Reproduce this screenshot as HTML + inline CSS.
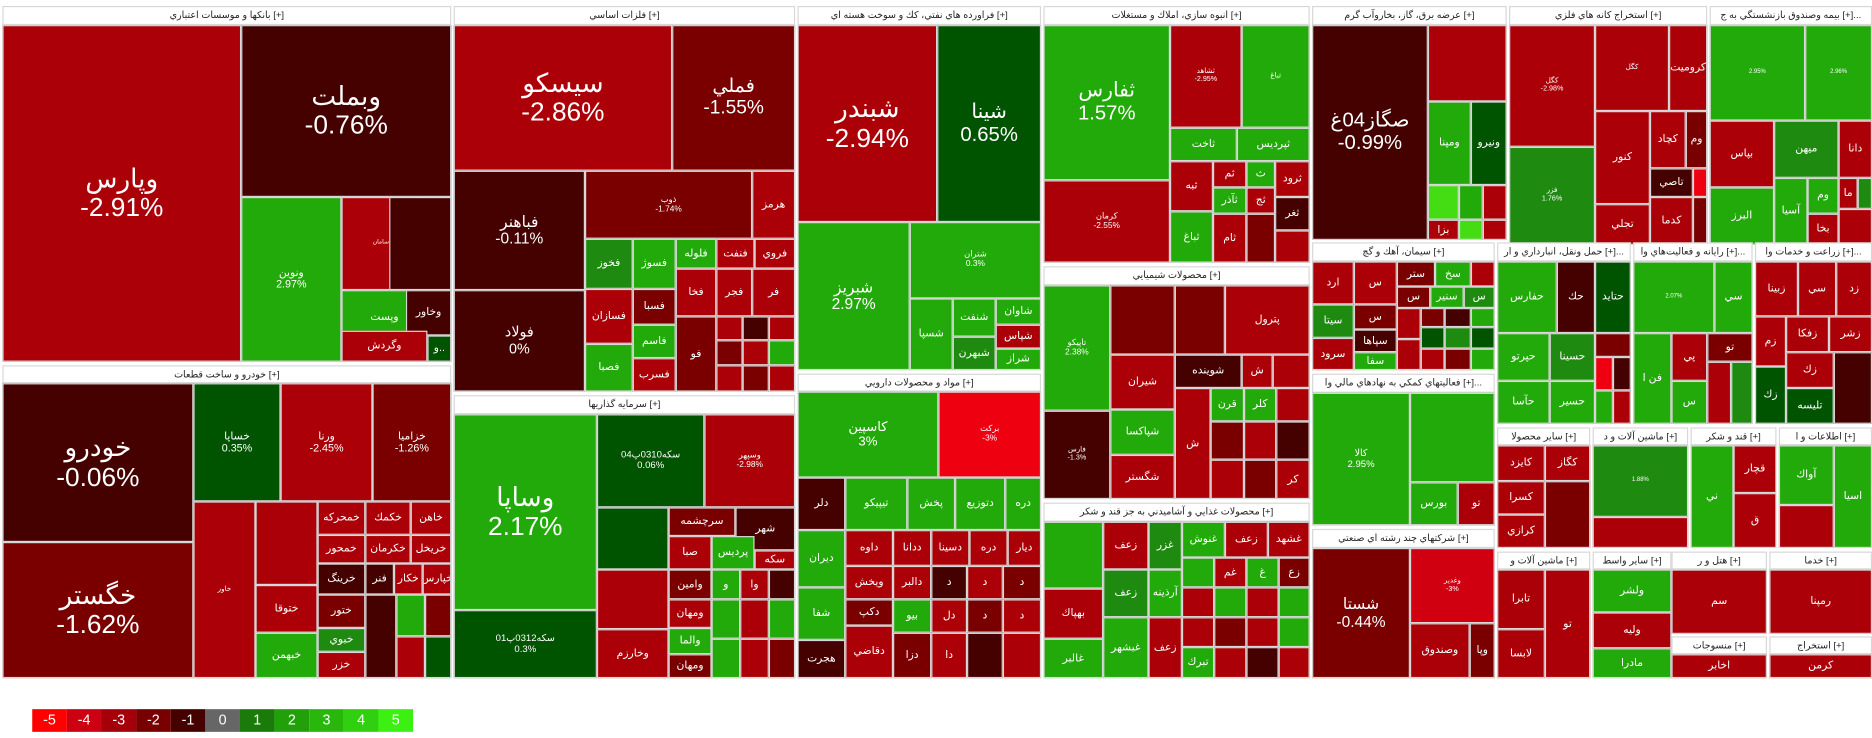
<!DOCTYPE html>
<html><head><meta charset="utf-8"><style>
body{margin:0;background:#fff;width:1872px;height:738px;overflow:hidden;font-family:"Liberation Sans","DejaVu Sans",sans-serif}
#w{position:absolute;left:0;top:0;width:1568px;height:618px;transform:scale(1.19388);transform-origin:0 0}
.h,.t{position:absolute;box-sizing:border-box;border:1px solid #d8d8d8;overflow:hidden}
.h{background:#fff;color:#222;font-size:8px;text-align:center;line-height:13px;white-space:nowrap}
.t{color:#fff;display:flex;align-items:center;justify-content:center;text-align:center;font-size:9px;line-height:1.1}
.a{background:#ac0008}.b{background:#7a0000}.c{background:#450000}.d{background:#d00010}.e{background:#ee0010}
.g{background:#22aa0a}.f{background:#1f8a10}.k{background:#005400}.l{background:#44dd14}
.L{position:absolute;top:594px;height:19px;width:29px;color:#fff;font-size:12px;text-align:center;line-height:19px}
</style></head><body><div id="w">
<!-- banks -->
<div class="h" style="left:2px;top:5px;width:376px;height:16px">بانكها و موسسات اعتباري [+]</div>
<div class="t a" style="left:2px;top:21px;width:200px;height:282px;font-size:22px">وپارس<br>-2.91%</div>
<div class="t c" style="left:202px;top:21px;width:176px;height:144px;font-size:22px">وبملت<br>-0.76%</div>
<div class="t g" style="left:202px;top:165px;width:84px;height:138px">ونوين<br>2.97%</div>
<div class="t a" style="left:286px;top:165px;width:66px;height:78px;font-size:5px">سامان</div>
<div class="t c" style="left:326px;top:165px;width:52px;height:78px;font-size:5px"></div>
<div class="t g" style="left:286px;top:243px;width:72px;height:46px">وپست</div>
<div class="t c" style="left:340px;top:243px;width:38px;height:38px">وخاور</div>
<div class="t a" style="left:286px;top:277px;width:72px;height:26px">وگردش</div>
<div class="t k" style="left:358px;top:281px;width:20px;height:22px">و..</div>
<!-- cars -->
<div class="h" style="left:2px;top:306px;width:376px;height:15px">خودرو و ساخت قطعات [+]</div>
<div class="t c" style="left:2px;top:321px;width:160px;height:133px;font-size:22px">خودرو<br>-0.06%</div>
<div class="t b" style="left:2px;top:454px;width:160px;height:114px;font-size:22px">خگستر<br>-1.62%</div>
<div class="t k" style="left:162px;top:321px;width:73px;height:99px">خساپا<br>0.35%</div>
<div class="t a" style="left:235px;top:321px;width:77px;height:99px">ورنا<br>-2.45%</div>
<div class="t b" style="left:312px;top:321px;width:66px;height:99px">خزاميا<br>-1.26%</div>
<div class="t a" style="left:162px;top:420px;width:52px;height:148px;font-size:6px">خاور</div>
<div class="t a" style="left:214px;top:420px;width:52px;height:70px;font-size:6px"></div>
<div class="t a" style="left:266px;top:420px;width:40px;height:28px">خمحركه</div>
<div class="t a" style="left:306px;top:420px;width:38px;height:28px">خكمك</div>
<div class="t a" style="left:344px;top:420px;width:34px;height:28px">خاهن</div>
<div class="t a" style="left:266px;top:448px;width:40px;height:24px">خمحور</div>
<div class="t a" style="left:306px;top:448px;width:38px;height:24px">خكرمان</div>
<div class="t a" style="left:344px;top:448px;width:34px;height:24px">خريخل</div>
<div class="t a" style="left:214px;top:490px;width:52px;height:40px">ختوقا</div>
<div class="t c" style="left:266px;top:472px;width:40px;height:26px">خرينگ</div>
<div class="t c" style="left:306px;top:472px;width:24px;height:26px">فنر</div>
<div class="t a" style="left:330px;top:472px;width:24px;height:26px">خكار</div>
<div class="t a" style="left:354px;top:472px;width:24px;height:26px">خپارس</div>
<div class="t b" style="left:266px;top:498px;width:40px;height:28px">ختور</div>
<div class="t g" style="left:214px;top:530px;width:52px;height:38px">خبهمن</div>
<div class="t f" style="left:266px;top:526px;width:40px;height:20px">خبوي</div>
<div class="t a" style="left:266px;top:546px;width:40px;height:22px">خزر</div>
<div class="t c" style="left:306px;top:498px;width:26px;height:70px"></div>
<div class="t g" style="left:332px;top:498px;width:24px;height:35px"></div>
<div class="t b" style="left:356px;top:498px;width:22px;height:35px"></div>
<div class="t a" style="left:332px;top:533px;width:24px;height:35px"></div>
<div class="t k" style="left:356px;top:533px;width:22px;height:35px"></div>
<!-- metals -->
<div class="h" style="left:380px;top:5px;width:286px;height:16px">فلزات اساسي [+]</div>
<div class="t a" style="left:380px;top:21px;width:183px;height:122px;font-size:22px">سيسكو<br>-2.86%</div>
<div class="t b" style="left:563px;top:21px;width:103px;height:122px;font-size:16px">فملي<br>-1.55%</div>
<div class="t c" style="left:380px;top:143px;width:110px;height:100px;font-size:13px">فباهنر<br>-0.11%</div>
<div class="t c" style="left:380px;top:243px;width:110px;height:85px;font-size:12px">فولاد<br>0%</div>
<div class="t b" style="left:490px;top:143px;width:140px;height:57px;font-size:7px">ذوب<br>-1.74%</div>
<div class="t a" style="left:630px;top:143px;width:36px;height:57px">هرمز</div>
<div class="t f" style="left:490px;top:200px;width:40px;height:42px">فخوز</div>
<div class="t g" style="left:530px;top:200px;width:36px;height:42px">فسوژ</div>
<div class="t g" style="left:566px;top:200px;width:34px;height:25px">فلوله</div>
<div class="t a" style="left:600px;top:200px;width:32px;height:25px">فنفت</div>
<div class="t a" style="left:632px;top:200px;width:34px;height:25px">فروي</div>
<div class="t a" style="left:490px;top:242px;width:40px;height:46px">فسازان</div>
<div class="t b" style="left:530px;top:242px;width:36px;height:30px">فسبا</div>
<div class="t a" style="left:566px;top:225px;width:34px;height:40px">فخا</div>
<div class="t a" style="left:600px;top:225px;width:30px;height:40px">فجر</div>
<div class="t a" style="left:630px;top:225px;width:36px;height:40px">فر</div>
<div class="t g" style="left:490px;top:288px;width:40px;height:40px">فصبا</div>
<div class="t g" style="left:530px;top:272px;width:36px;height:28px">فاسم</div>
<div class="t a" style="left:530px;top:300px;width:36px;height:28px">فسرب</div>
<div class="t b" style="left:566px;top:265px;width:34px;height:63px">فو</div>
<div class="t a" style="left:600px;top:265px;width:22px;height:20px"></div><div class="t c" style="left:622px;top:265px;width:22px;height:20px"></div><div class="t a" style="left:644px;top:265px;width:22px;height:20px"></div>
<div class="t b" style="left:600px;top:285px;width:22px;height:21px"></div><div class="t a" style="left:622px;top:285px;width:22px;height:21px"></div><div class="t g" style="left:644px;top:285px;width:22px;height:21px"></div>
<div class="t a" style="left:600px;top:306px;width:22px;height:22px"></div><div class="t b" style="left:622px;top:306px;width:22px;height:22px"></div><div class="t a" style="left:644px;top:306px;width:22px;height:22px"></div>
<!-- investments -->
<div class="h" style="left:380px;top:331px;width:286px;height:16px">سرمايه گذاريها [+]</div>
<div class="t g" style="left:380px;top:347px;width:120px;height:164px;font-size:22px">وساپا<br>2.17%</div>
<div class="t k" style="left:380px;top:511px;width:120px;height:57px;font-size:8px">سكه0312پ01<br>0.3%</div>
<div class="t k" style="left:500px;top:347px;width:90px;height:78px;font-size:8px">سكه0310پ04<br>0.06%</div>
<div class="t a" style="left:590px;top:347px;width:76px;height:78px;font-size:7px">وسپهر<br>-2.98%</div>
<div class="t k" style="left:500px;top:425px;width:60px;height:52px;font-size:5px"></div>
<div class="t a" style="left:500px;top:477px;width:60px;height:50px;font-size:5px"></div>
<div class="t a" style="left:500px;top:527px;width:60px;height:41px">وخارزم</div>
<div class="t b" style="left:560px;top:425px;width:56px;height:24px">سرچشمه</div>
<div class="t c" style="left:616px;top:425px;width:50px;height:36px">شهر</div>
<div class="t a" style="left:560px;top:449px;width:36px;height:28px">صبا</div>
<div class="t g" style="left:596px;top:449px;width:36px;height:28px">پرديس</div>
<div class="t a" style="left:632px;top:461px;width:34px;height:16px">سكه</div>
<div class="t b" style="left:560px;top:477px;width:36px;height:25px">وامين</div>
<div class="t g" style="left:596px;top:477px;width:24px;height:25px">و</div>
<div class="t a" style="left:620px;top:477px;width:24px;height:25px">وا</div>
<div class="t c" style="left:644px;top:477px;width:22px;height:25px"></div>
<div class="t a" style="left:560px;top:502px;width:36px;height:24px">ومهان</div>
<div class="t g" style="left:560px;top:526px;width:36px;height:22px">والما</div>
<div class="t b" style="left:560px;top:548px;width:36px;height:20px">ومهان</div>
<div class="t g" style="left:596px;top:502px;width:24px;height:33px"></div><div class="t a" style="left:620px;top:502px;width:24px;height:33px"></div><div class="t g" style="left:644px;top:502px;width:22px;height:33px"></div>
<div class="t g" style="left:596px;top:535px;width:24px;height:33px"></div><div class="t a" style="left:620px;top:535px;width:24px;height:33px"></div><div class="t b" style="left:644px;top:535px;width:22px;height:33px"></div>
<!-- petroleum -->
<div class="h" style="left:668px;top:5px;width:204px;height:16px">فراورده هاي نفتي، كك و سوخت هسته اي [+]</div>
<div class="t a" style="left:668px;top:21px;width:117px;height:165px;font-size:22px">شبندر<br>-2.94%</div>
<div class="t k" style="left:785px;top:21px;width:87px;height:165px;font-size:17px">شينا<br>0.65%</div>
<div class="t g" style="left:668px;top:186px;width:94px;height:124px;font-size:13px">شبريز<br>2.97%</div>
<div class="t g" style="left:762px;top:186px;width:110px;height:64px;font-size:7px">شتران<br>0.3%</div>
<div class="t g" style="left:762px;top:250px;width:36px;height:60px">شسپا</div>
<div class="t g" style="left:798px;top:250px;width:36px;height:32px">شنفت</div>
<div class="t f" style="left:798px;top:282px;width:36px;height:28px">شبهرن</div>
<div class="t g" style="left:834px;top:250px;width:38px;height:22px">شاوان</div>
<div class="t a" style="left:834px;top:272px;width:38px;height:20px">شپاس</div>
<div class="t g" style="left:834px;top:292px;width:38px;height:18px">شراز</div>
<!-- pharma -->
<div class="h" style="left:668px;top:313px;width:204px;height:15px">مواد و محصولات دارويي [+]</div>
<div class="t g" style="left:668px;top:328px;width:118px;height:72px;font-size:11px">كاسپين<br>3%</div>
<div class="t e" style="left:786px;top:328px;width:86px;height:72px;font-size:7px">بركت<br>-3%</div>
<div class="t c" style="left:668px;top:400px;width:40px;height:44px">دلر</div>
<div class="t g" style="left:708px;top:400px;width:52px;height:44px">تيپيكو</div>
<div class="t g" style="left:760px;top:400px;width:40px;height:44px">پخش</div>
<div class="t g" style="left:800px;top:400px;width:42px;height:44px">دتوزيع</div>
<div class="t g" style="left:842px;top:400px;width:30px;height:44px">دره</div>
<div class="t g" style="left:668px;top:444px;width:40px;height:48px">ديران</div>
<div class="t g" style="left:668px;top:492px;width:40px;height:44px">شفا</div>
<div class="t c" style="left:668px;top:536px;width:40px;height:32px">هجرت</div>
<div class="t a" style="left:708px;top:444px;width:40px;height:30px">داوه</div>
<div class="t a" style="left:748px;top:444px;width:32px;height:30px">ددانا</div>
<div class="t a" style="left:780px;top:444px;width:32px;height:30px">دسينا</div>
<div class="t a" style="left:812px;top:444px;width:32px;height:30px">دره</div>
<div class="t a" style="left:844px;top:444px;width:28px;height:30px">ديار</div>
<div class="t a" style="left:708px;top:474px;width:40px;height:28px">ويخش</div>
<div class="t a" style="left:748px;top:474px;width:32px;height:28px">دالبر</div>
<div class="t c" style="left:780px;top:474px;width:30px;height:28px">د</div><div class="t a" style="left:810px;top:474px;width:30px;height:28px">د</div><div class="t b" style="left:840px;top:474px;width:32px;height:28px">د</div>
<div class="t b" style="left:708px;top:502px;width:40px;height:22px">دكپ</div>
<div class="t g" style="left:748px;top:502px;width:32px;height:28px">بيو</div>
<div class="t a" style="left:780px;top:502px;width:30px;height:28px">دل</div><div class="t b" style="left:810px;top:502px;width:30px;height:28px">د</div><div class="t a" style="left:840px;top:502px;width:32px;height:28px">د</div>
<div class="t a" style="left:708px;top:524px;width:40px;height:44px">دقاضي</div>
<div class="t b" style="left:748px;top:530px;width:32px;height:38px">دزا</div>
<div class="t a" style="left:780px;top:530px;width:30px;height:38px">دا</div><div class="t c" style="left:810px;top:530px;width:30px;height:38px"></div><div class="t a" style="left:840px;top:530px;width:32px;height:38px"></div>
<!-- construction -->
<div class="h" style="left:874px;top:5px;width:223px;height:16px">انبوه سازي، املاك و مستغلات [+]</div>
<div class="t g" style="left:874px;top:21px;width:106px;height:130px;font-size:17px">ثفارس<br>1.57%</div>
<div class="t a" style="left:874px;top:151px;width:106px;height:69px;font-size:7px">كرمان<br>-2.55%</div>
<div class="t a" style="left:980px;top:21px;width:60px;height:86px;font-size:6px">ثشاهد<br>-2.95%</div>
<div class="t g" style="left:1040px;top:21px;width:57px;height:86px;font-size:6px">ثباغ</div>
<div class="t g" style="left:980px;top:107px;width:56px;height:28px">ثاخت</div>
<div class="t g" style="left:1036px;top:107px;width:61px;height:28px">ثپرديس</div>
<div class="t a" style="left:980px;top:135px;width:36px;height:42px">ثبه</div>
<div class="t a" style="left:1016px;top:135px;width:28px;height:22px">ثم</div>
<div class="t g" style="left:1044px;top:135px;width:24px;height:22px">ث</div>
<div class="t a" style="left:1068px;top:135px;width:29px;height:30px">ثرود</div>
<div class="t g" style="left:1016px;top:157px;width:28px;height:22px">ثآذر</div>
<div class="t a" style="left:1044px;top:157px;width:24px;height:22px">ثج</div>
<div class="t c" style="left:1068px;top:165px;width:29px;height:28px">ثغر</div>
<div class="t g" style="left:980px;top:177px;width:36px;height:43px">ثباغ</div>
<div class="t a" style="left:1016px;top:179px;width:28px;height:41px">ثام</div>
<div class="t b" style="left:1044px;top:179px;width:24px;height:41px"></div>
<div class="t a" style="left:1068px;top:193px;width:29px;height:27px"></div>
<!-- chemicals -->
<div class="h" style="left:874px;top:223px;width:223px;height:16px">محصولات شيميايي [+]</div>
<div class="t g" style="left:874px;top:239px;width:56px;height:105px;font-size:7px">تاپيكو<br>2.38%</div>
<div class="t c" style="left:874px;top:344px;width:56px;height:74px;font-size:6px">فارس<br>-1.3%</div>
<div class="t b" style="left:930px;top:239px;width:54px;height:58px;font-size:5px"></div>
<div class="t b" style="left:984px;top:239px;width:42px;height:58px;font-size:5px"></div>
<div class="t a" style="left:1026px;top:239px;width:71px;height:58px">پترول</div>
<div class="t a" style="left:930px;top:297px;width:54px;height:46px">شيران</div>
<div class="t c" style="left:984px;top:297px;width:56px;height:28px">شوينده</div>
<div class="t a" style="left:1040px;top:297px;width:26px;height:28px">ش</div>
<div class="t a" style="left:1066px;top:297px;width:31px;height:28px"></div>
<div class="t g" style="left:930px;top:343px;width:54px;height:38px">شپاكسا</div>
<div class="t a" style="left:930px;top:381px;width:54px;height:37px">شگستر</div>
<div class="t a" style="left:984px;top:325px;width:30px;height:93px">ش</div>
<div class="t g" style="left:1014px;top:325px;width:28px;height:28px">قرن</div>
<div class="t g" style="left:1042px;top:325px;width:27px;height:28px">كلر</div>
<div class="t a" style="left:1069px;top:325px;width:28px;height:28px"></div>
<div class="t b" style="left:1014px;top:353px;width:28px;height:32px"></div><div class="t a" style="left:1042px;top:353px;width:27px;height:32px"></div><div class="t c" style="left:1069px;top:353px;width:28px;height:32px"></div>
<div class="t a" style="left:1014px;top:385px;width:28px;height:33px"></div><div class="t b" style="left:1042px;top:385px;width:27px;height:33px"></div><div class="t a" style="left:1069px;top:385px;width:28px;height:33px">كر</div>
<!-- food -->
<div class="h" style="left:874px;top:421px;width:223px;height:16px">محصولات غذايي و آشاميدني به جز قند و شكر [+]</div>
<div class="t g" style="left:874px;top:437px;width:50px;height:56px;font-size:5px"></div>
<div class="t a" style="left:874px;top:493px;width:50px;height:42px">بهپاك</div>
<div class="t g" style="left:874px;top:535px;width:50px;height:33px">غالبر</div>
<div class="t a" style="left:924px;top:437px;width:38px;height:40px">زعف</div>
<div class="t f" style="left:924px;top:477px;width:38px;height:40px">زعف</div>
<div class="t g" style="left:924px;top:517px;width:38px;height:51px">غبشهر</div>
<div class="t f" style="left:962px;top:437px;width:28px;height:40px">غزر</div>
<div class="t g" style="left:962px;top:477px;width:28px;height:40px">آرذينه</div>
<div class="t a" style="left:962px;top:517px;width:28px;height:51px">زعف</div>
<div class="t g" style="left:990px;top:437px;width:36px;height:30px">غنوش</div>
<div class="t a" style="left:1026px;top:437px;width:36px;height:30px">زعف</div>
<div class="t a" style="left:1062px;top:437px;width:35px;height:30px">غشهد</div>
<div class="t g" style="left:990px;top:467px;width:27px;height:25px"></div><div class="t a" style="left:1017px;top:467px;width:27px;height:25px">غم</div><div class="t g" style="left:1044px;top:467px;width:27px;height:25px">غ</div><div class="t b" style="left:1071px;top:467px;width:26px;height:25px">زع</div>
<div class="t a" style="left:990px;top:492px;width:27px;height:25px"></div><div class="t g" style="left:1017px;top:492px;width:27px;height:25px"></div><div class="t a" style="left:1044px;top:492px;width:27px;height:25px"></div><div class="t g" style="left:1071px;top:492px;width:26px;height:25px"></div>
<div class="t a" style="left:990px;top:517px;width:27px;height:25px"></div><div class="t b" style="left:1017px;top:517px;width:27px;height:25px"></div><div class="t a" style="left:1044px;top:517px;width:27px;height:25px"></div><div class="t g" style="left:1071px;top:517px;width:26px;height:25px"></div>
<div class="t g" style="left:990px;top:542px;width:27px;height:26px">تبرك</div><div class="t a" style="left:1017px;top:542px;width:27px;height:26px"></div><div class="t c" style="left:1044px;top:542px;width:27px;height:26px"></div><div class="t a" style="left:1071px;top:542px;width:26px;height:26px"></div>
<!-- utilities -->
<div class="h" style="left:1099px;top:5px;width:163px;height:16px">عرضه برق، گاز، بخاروآب گرم [+]</div>
<div class="t c" style="left:1099px;top:21px;width:97px;height:180px;font-size:17px">صگاز04غ<br>-0.99%</div>
<div class="t a" style="left:1196px;top:21px;width:66px;height:64px;font-size:5px"></div>
<div class="t g" style="left:1196px;top:85px;width:36px;height:70px">ومپنا</div>
<div class="t k" style="left:1232px;top:85px;width:30px;height:70px">ونيرو</div>
<div class="t l" style="left:1196px;top:155px;width:26px;height:29px"></div>
<div class="t g" style="left:1222px;top:155px;width:20px;height:29px"></div>
<div class="t a" style="left:1242px;top:155px;width:20px;height:29px"></div>
<div class="t a" style="left:1196px;top:184px;width:26px;height:17px">بزا</div>
<div class="t l" style="left:1222px;top:184px;width:20px;height:17px"></div>
<div class="t a" style="left:1242px;top:184px;width:20px;height:17px"></div>
<!-- cement -->
<div class="h" style="left:1099px;top:203px;width:153px;height:16px">سيمان، آهك و گچ [+]</div>
<div class="t a" style="left:1099px;top:219px;width:35px;height:36px">ارد</div>
<div class="t f" style="left:1099px;top:255px;width:35px;height:28px">سيتا</div>
<div class="t a" style="left:1099px;top:283px;width:35px;height:27px">سرود</div>
<div class="t a" style="left:1134px;top:219px;width:36px;height:36px">س</div>
<div class="t b" style="left:1134px;top:255px;width:36px;height:21px">س</div>
<div class="t c" style="left:1134px;top:276px;width:36px;height:19px">سپاها</div>
<div class="t g" style="left:1134px;top:295px;width:36px;height:15px">سفا</div>
<div class="t b" style="left:1170px;top:219px;width:32px;height:21px">ستر</div>
<div class="t g" style="left:1202px;top:219px;width:30px;height:21px">سخ</div>
<div class="t a" style="left:1232px;top:219px;width:20px;height:21px"></div>
<div class="t b" style="left:1170px;top:240px;width:28px;height:18px">س</div>
<div class="t g" style="left:1198px;top:240px;width:28px;height:18px">سنير</div>
<div class="t f" style="left:1226px;top:240px;width:26px;height:18px">س</div>
<div class="t a" style="left:1170px;top:258px;width:20px;height:26px"></div><div class="t b" style="left:1190px;top:258px;width:20px;height:16px"></div><div class="t c" style="left:1210px;top:258px;width:22px;height:16px"></div><div class="t g" style="left:1232px;top:258px;width:20px;height:16px"></div>
<div class="t k" style="left:1190px;top:274px;width:20px;height:18px"></div><div class="t f" style="left:1210px;top:274px;width:22px;height:18px"></div><div class="t k" style="left:1232px;top:274px;width:20px;height:18px"></div>
<div class="t a" style="left:1170px;top:284px;width:20px;height:26px"></div><div class="t a" style="left:1190px;top:292px;width:20px;height:18px"></div><div class="t b" style="left:1210px;top:292px;width:22px;height:18px"></div><div class="t g" style="left:1232px;top:292px;width:20px;height:18px"></div>
<!-- financial -->
<div class="h" style="left:1099px;top:313px;width:153px;height:16px">فعاليتهاي كمكي به نهادهاي مالي وا [+]...</div>
<div class="t g" style="left:1099px;top:329px;width:82px;height:111px;font-size:8px">كالا<br>2.95%</div>
<div class="t g" style="left:1181px;top:329px;width:71px;height:75px;font-size:5px"></div>
<div class="t g" style="left:1181px;top:404px;width:40px;height:36px">بورس</div>
<div class="t a" style="left:1221px;top:404px;width:31px;height:36px">تو</div>
<!-- multi -->
<div class="h" style="left:1099px;top:443px;width:153px;height:16px">شركتهاي چند رشته اي صنعتي [+]</div>
<div class="t b" style="left:1099px;top:459px;width:82px;height:109px;font-size:13px">شستا<br>-0.44%</div>
<div class="t d" style="left:1181px;top:459px;width:71px;height:63px;font-size:6px">وغدير<br>-3%</div>
<div class="t a" style="left:1181px;top:522px;width:50px;height:46px">وصندوق</div>
<div class="t b" style="left:1231px;top:522px;width:21px;height:46px">وپا</div>
<!-- mining -->
<div class="h" style="left:1264px;top:5px;width:166px;height:16px">استخراج كانه هاي فلزي [+]</div>
<div class="t a" style="left:1264px;top:21px;width:72px;height:102px;font-size:6px">كگل<br>-2.98%</div>
<div class="t f" style="left:1264px;top:123px;width:72px;height:82px;font-size:6px">فزر<br>1.76%</div>
<div class="t a" style="left:1336px;top:21px;width:62px;height:72px;font-size:6px">كگل</div>
<div class="t a" style="left:1398px;top:21px;width:32px;height:72px">كروميت</div>
<div class="t a" style="left:1336px;top:93px;width:46px;height:78px">كنور</div>
<div class="t a" style="left:1382px;top:93px;width:30px;height:48px">كچاد</div>
<div class="t b" style="left:1412px;top:93px;width:18px;height:48px">وم</div>
<div class="t c" style="left:1382px;top:141px;width:36px;height:24px">تاصي</div>
<div class="t e" style="left:1418px;top:141px;width:12px;height:24px"></div>
<div class="t a" style="left:1336px;top:171px;width:46px;height:34px">تجلي</div>
<div class="t a" style="left:1382px;top:165px;width:36px;height:40px">كدما</div>
<div class="t b" style="left:1418px;top:165px;width:12px;height:40px"></div>
<!-- insurance -->
<div class="h" style="left:1432px;top:5px;width:136px;height:16px">بيمه وصندوق بازنشستگي به ج [+]...</div>
<div class="t g" style="left:1432px;top:21px;width:80px;height:80px;font-size:5px">2.95%</div>
<div class="t g" style="left:1512px;top:21px;width:56px;height:80px;font-size:5px">2.96%</div>
<div class="t a" style="left:1432px;top:101px;width:54px;height:56px">بپاس</div>
<div class="t f" style="left:1486px;top:101px;width:54px;height:48px">ميهن</div>
<div class="t a" style="left:1540px;top:101px;width:28px;height:48px">دانا</div>
<div class="t g" style="left:1432px;top:157px;width:54px;height:48px">البرز</div>
<div class="t g" style="left:1486px;top:149px;width:28px;height:56px">آسيا</div>
<div class="t g" style="left:1514px;top:149px;width:26px;height:30px">وم</div>
<div class="t a" style="left:1514px;top:179px;width:26px;height:26px">بخا</div>
<div class="t a" style="left:1540px;top:149px;width:16px;height:26px">ما</div>
<div class="t f" style="left:1556px;top:149px;width:12px;height:26px"></div>
<div class="t a" style="left:1540px;top:175px;width:28px;height:30px"></div>
<!-- transport -->
<div class="h" style="left:1254px;top:203px;width:112px;height:16px">حمل ونقل، انبارداري و ار [+]...</div>
<div class="t g" style="left:1254px;top:219px;width:50px;height:60px">حفارس</div>
<div class="t c" style="left:1304px;top:219px;width:32px;height:60px">حك</div>
<div class="t k" style="left:1336px;top:219px;width:30px;height:60px">حتايد</div>
<div class="t g" style="left:1254px;top:279px;width:44px;height:40px">حپرتو</div>
<div class="t f" style="left:1298px;top:279px;width:38px;height:40px">حسينا</div>
<div class="t g" style="left:1254px;top:319px;width:44px;height:36px">حآسا</div>
<div class="t g" style="left:1298px;top:319px;width:38px;height:36px">حسير</div>
<div class="t b" style="left:1336px;top:279px;width:30px;height:20px"></div>
<div class="t e" style="left:1336px;top:299px;width:15px;height:28px"></div><div class="t c" style="left:1351px;top:299px;width:15px;height:28px"></div>
<div class="t g" style="left:1336px;top:327px;width:15px;height:28px"></div><div class="t a" style="left:1351px;top:327px;width:15px;height:28px"></div>
<!-- IT -->
<div class="h" style="left:1368px;top:203px;width:100px;height:16px">رايانه و فعاليت‌هاي وا [+]...</div>
<div class="t g" style="left:1368px;top:219px;width:68px;height:60px;font-size:5px">2.07%</div>
<div class="t g" style="left:1436px;top:219px;width:32px;height:60px">سي</div>
<div class="t g" style="left:1368px;top:279px;width:32px;height:76px">فن ا</div>
<div class="t a" style="left:1400px;top:279px;width:30px;height:40px">پي</div>
<div class="t b" style="left:1430px;top:279px;width:38px;height:24px">تو</div>
<div class="t g" style="left:1400px;top:319px;width:30px;height:36px">س</div>
<div class="t a" style="left:1430px;top:303px;width:20px;height:52px"></div><div class="t f" style="left:1450px;top:303px;width:18px;height:52px"></div>
<!-- agri -->
<div class="h" style="left:1470px;top:203px;width:98px;height:16px">زراعت و خدمات وا [+]...</div>
<div class="t a" style="left:1470px;top:219px;width:36px;height:46px">زبينا</div>
<div class="t a" style="left:1506px;top:219px;width:32px;height:46px">سي</div>
<div class="t a" style="left:1538px;top:219px;width:30px;height:46px">زد</div>
<div class="t a" style="left:1470px;top:265px;width:26px;height:42px">زم</div>
<div class="t k" style="left:1470px;top:307px;width:26px;height:48px">زك</div>
<div class="t a" style="left:1496px;top:265px;width:36px;height:30px">زفكا</div>
<div class="t a" style="left:1532px;top:265px;width:36px;height:30px">زشر</div>
<div class="t a" style="left:1496px;top:295px;width:40px;height:30px">زك</div>
<div class="t k" style="left:1496px;top:325px;width:40px;height:30px">تليسه</div>
<div class="t c" style="left:1536px;top:295px;width:32px;height:60px"></div>
<!-- lower right groups -->
<div class="h" style="left:1254px;top:358px;width:78px;height:15px">سایر محصولا [+]</div>
<div class="t a" style="left:1254px;top:373px;width:40px;height:30px">كايزد</div>
<div class="t a" style="left:1294px;top:373px;width:38px;height:30px">كگاز</div>
<div class="t a" style="left:1254px;top:403px;width:40px;height:28px">كسرا</div>
<div class="t a" style="left:1254px;top:431px;width:40px;height:28px">كرازي</div>
<div class="t b" style="left:1294px;top:403px;width:38px;height:56px"></div>
<div class="h" style="left:1334px;top:358px;width:80px;height:15px">ماشين آلات و د [+]</div>
<div class="t f" style="left:1334px;top:373px;width:80px;height:60px;font-size:5px">1.88%</div>
<div class="t a" style="left:1334px;top:433px;width:80px;height:26px"></div>
<div class="h" style="left:1416px;top:358px;width:72px;height:15px">قند و شكر [+]</div>
<div class="t g" style="left:1416px;top:373px;width:36px;height:86px">ني</div>
<div class="t a" style="left:1452px;top:373px;width:36px;height:40px">قچار</div>
<div class="t a" style="left:1452px;top:413px;width:36px;height:46px">ق</div>
<div class="h" style="left:1490px;top:358px;width:78px;height:15px">اطلاعات و ا [+]</div>
<div class="t g" style="left:1490px;top:373px;width:46px;height:50px">آواك</div>
<div class="t g" style="left:1536px;top:373px;width:32px;height:86px">اسيا</div>
<div class="t a" style="left:1490px;top:423px;width:46px;height:36px"></div>
<div class="h" style="left:1254px;top:462px;width:78px;height:15px">ماشين آلات و [+]</div>
<div class="t a" style="left:1254px;top:477px;width:40px;height:50px">تابرا</div>
<div class="t a" style="left:1254px;top:527px;width:40px;height:41px">لابسا</div>
<div class="t a" style="left:1294px;top:477px;width:38px;height:91px">تو</div>
<div class="h" style="left:1334px;top:462px;width:66px;height:15px">سایر واسط [+]</div>
<div class="t g" style="left:1334px;top:477px;width:66px;height:36px">ولشر</div>
<div class="t a" style="left:1334px;top:513px;width:66px;height:30px">وليه</div>
<div class="h" style="left:1400px;top:462px;width:80px;height:15px">هتل و ر [+]</div>
<div class="t a" style="left:1400px;top:477px;width:80px;height:54px">سم</div>
<div class="h" style="left:1482px;top:462px;width:86px;height:15px">خدما [+]</div>
<div class="t a" style="left:1482px;top:477px;width:86px;height:54px">رمپنا</div>
<div class="t g" style="left:1334px;top:543px;width:66px;height:25px">مادرا</div>
<div class="h" style="left:1400px;top:533px;width:80px;height:15px">منسوجات [+]</div>
<div class="t a" style="left:1400px;top:548px;width:80px;height:20px">اخابر</div>
<div class="h" style="left:1482px;top:533px;width:86px;height:15px">استخراج [+]</div>
<div class="t a" style="left:1482px;top:548px;width:86px;height:20px">كرمن</div>
<!-- legend -->
<div class="L" style="left:27px;background:#ff0000">-5</div>
<div class="L" style="left:56px;background:#cc0010">-4</div>
<div class="L" style="left:85px;background:#a5000a">-3</div>
<div class="L" style="left:114px;background:#780000">-2</div>
<div class="L" style="left:143px;background:#450000">-1</div>
<div class="L" style="left:172px;background:#666">0</div>
<div class="L" style="left:201px;background:#1a7a0a">1</div>
<div class="L" style="left:230px;background:#22a00a">2</div>
<div class="L" style="left:259px;background:#28b80c">3</div>
<div class="L" style="left:288px;background:#30d010">4</div>
<div class="L" style="left:317px;background:#3cf012">5</div>
</div></body></html>
